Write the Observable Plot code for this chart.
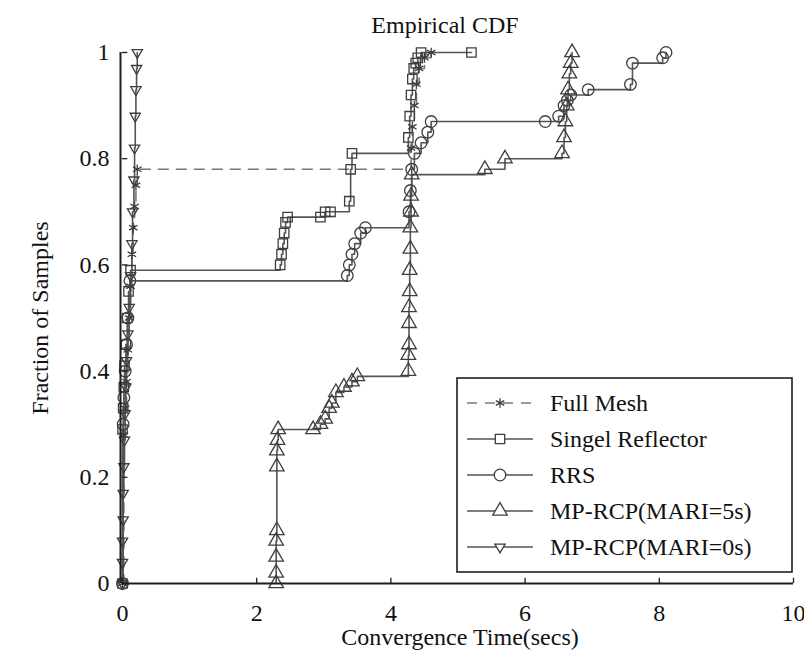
<!DOCTYPE html>
<html><head><meta charset="utf-8">
<script src="https://cdn.jsdelivr.net/npm/d3@7"></script>
<script src="https://cdn.jsdelivr.net/npm/@observablehq/plot@0.6"></script>
<style>
body{margin:0;background:#fff;}
#chart{width:804px;height:658px;}
</style></head><body><div id="chart"></div>
<script>
const titleText = "Empirical CDF";
const xLabel = "Convergence Time(secs)";
const yLabel = "Fraction of Samples";
const seriesNames = ["Full Mesh","Singel Reflector","RRS","MP-RCP(MARI=5s)","MP-RCP(MARI=0s)"];
const xTicks = [0,2,4,6,8,10];
const yTicks = [0,0.2,0.4,0.6,0.8,1];

const fullMesh = [[0,0],[0.02,0.28],[0.04,0.33],[0.06,0.38],[0.08,0.44],[0.1,0.5],[0.12,0.56],[0.14,0.62],[0.16,0.67],[0.18,0.71],[0.2,0.75],[0.22,0.78],[4.3,0.82],[4.32,0.86],[4.35,0.9],[4.38,0.94],[4.42,0.97],[4.5,0.99],[4.6,1.0]];
const singel = [[0,0],[0,0.29],[0.01,0.33],[0.02,0.37],[0.03,0.41],[0.05,0.45],[0.07,0.5],[0.09,0.55],[0.12,0.59],[2.35,0.6],[2.37,0.62],[2.39,0.64],[2.41,0.66],[2.43,0.68],[2.46,0.69],[2.95,0.69],[3.02,0.7],[3.1,0.7],[3.38,0.72],[3.4,0.78],[3.42,0.81],[4.26,0.84],[4.28,0.88],[4.3,0.92],[4.32,0.95],[4.34,0.97],[4.37,0.98],[4.4,0.99],[4.45,1.0],[5.2,1.0]];
const rrs = [[0,0],[0.01,0.3],[0.02,0.35],[0.04,0.4],[0.06,0.45],[0.08,0.5],[0.11,0.57],[3.35,0.58],[3.38,0.6],[3.42,0.62],[3.46,0.64],[3.55,0.66],[3.62,0.67],[4.27,0.7],[4.29,0.74],[4.31,0.78],[4.35,0.81],[4.45,0.83],[4.55,0.85],[4.6,0.87],[6.3,0.87],[6.5,0.88],[6.58,0.9],[6.63,0.91],[6.68,0.92],[6.94,0.93],[7.57,0.94],[7.6,0.98],[8.05,0.99],[8.1,1.0]];
const mp5 = [[2.29,0],[2.29,0.02],[2.29,0.05],[2.29,0.08],[2.3,0.1],[2.3,0.22],[2.3,0.25],[2.31,0.27],[2.32,0.29],[2.84,0.29],[2.95,0.3],[3.02,0.31],[3.08,0.33],[3.12,0.34],[3.18,0.36],[3.3,0.37],[3.42,0.38],[3.5,0.39],[4.26,0.4],[4.26,0.43],[4.27,0.45],[4.27,0.49],[4.27,0.52],[4.28,0.55],[4.28,0.59],[4.29,0.63],[4.29,0.67],[4.3,0.7],[4.3,0.73],[4.31,0.77],[5.4,0.78],[5.7,0.8],[6.55,0.81],[6.58,0.84],[6.6,0.87],[6.62,0.9],[6.64,0.93],[6.66,0.96],[6.68,0.98],[6.7,1.0]];
const mp0 = [[0,0],[0,0.04],[0,0.08],[0.01,0.12],[0.01,0.17],[0.02,0.22],[0.03,0.27],[0.04,0.32],[0.05,0.37],[0.06,0.42],[0.08,0.47],[0.1,0.52],[0.12,0.58],[0.14,0.64],[0.15,0.7],[0.17,0.76],[0.18,0.82],[0.19,0.88],[0.2,0.93],[0.21,0.97],[0.22,1.0]];

const triangleDown = {
  draw(context, size) {
    const y = -Math.sqrt(size / (Math.sqrt(3) * 3));
    context.moveTo(0, -2 * y);
    context.lineTo(-Math.sqrt(3) * y, y);
    context.lineTo(Math.sqrt(3) * y, y);
    context.closePath();
  }
};

const lineGray = "#555";
const markGray = "#3e3e3e";
const axisColor = "#1e1e1e";
const FONT = "Liberation Serif, Times New Roman, serif";

const series = [
  {name: seriesNames[0], data: fullMesh, symbol: "asterisk", r: 4.6, dash: "10,8", lstroke: "#777"},
  {name: seriesNames[1], data: singel, symbol: "square", r: 5.3, dash: null, lstroke: lineGray},
  {name: seriesNames[2], data: rrs, symbol: "circle", r: 5.8, dash: null, lstroke: lineGray},
  {name: seriesNames[3], data: mp5, symbol: "triangle", r: 5.4, dash: null, lstroke: lineGray},
  {name: seriesNames[4], data: mp0, symbol: triangleDown, r: 3.8, dash: null, lstroke: lineGray}
];

const marks = [];
for (const s of series) {
  marks.push(Plot.line(s.data, {x: d => d[0], y: d => d[1], curve: "step-after", stroke: s.lstroke, strokeWidth: 1.6, strokeDasharray: s.dash}));
}
for (const s of series) {
  marks.push(Plot.dot(s.data, {x: d => d[0], y: d => d[1], symbol: s.symbol, r: s.r, stroke: markGray, strokeWidth: 1.3, fill: "none"}));
}
marks.push(Plot.ruleY([0], {stroke: axisColor, strokeWidth: 2}));
marks.push(Plot.ruleX([0], {stroke: axisColor, strokeWidth: 2, dx: -2}));
marks.push(Plot.ruleX(xTicks, {x: d => d, y1: 0, y2: 0.01, stroke: axisColor, strokeWidth: 1.3}));
marks.push(Plot.ruleY(yTicks, {y: d => d, x1: 0, x2: 0.08, stroke: axisColor, strokeWidth: 1.3}));
marks.push(Plot.axisX({ticks: xTicks, tickSize: 0, tickPadding: 20, label: null, tickFormat: d => String(d)}));
marks.push(Plot.axisY({ticks: yTicks, tickSize: 0, tickPadding: 13, label: null, tickFormat: d => String(d)}));

const chart = Plot.plot({
  width: 804, height: 658,
  marginLeft: 122, marginRight: 11, marginTop: 52, marginBottom: 75,
  x: {domain: [0, 10]},
  y: {domain: [0, 1]},
  style: {fontFamily: FONT, fontSize: "24px", background: "#fff", color: "#111"},
  marks
});
document.getElementById("chart").appendChild(chart);

const svg = d3.select(chart);
svg.append("text").attr("x", 445).attr("y", 33).attr("text-anchor", "middle")
  .attr("font-family", FONT).attr("font-size", 24).attr("fill", "#111").text(titleText);
svg.append("text").attr("x", 460).attr("y", 645).attr("text-anchor", "middle")
  .attr("font-family", FONT).attr("font-size", 24).attr("fill", "#111").text(xLabel);
svg.append("text").attr("transform", "translate(48,318) rotate(-90)").attr("text-anchor", "middle")
  .attr("font-family", FONT).attr("font-size", 24).attr("fill", "#111").text(yLabel);

// legend
const lg = svg.append("g");
const lx = 457, ly = 378, lw = 335, lh = 194;
lg.append("rect").attr("x", lx).attr("y", ly).attr("width", lw).attr("height", lh)
  .attr("fill", "#fff").attr("stroke", axisColor).attr("stroke-width", 1.6);
const symMap = {asterisk: d3.symbolAsterisk, square: d3.symbolSquare, circle: d3.symbolCircle, triangle: d3.symbolTriangle};
series.forEach((s, i) => {
  const cy = 403 + i * 36;
  lg.append("line").attr("x1", 467).attr("x2", 533).attr("y1", cy).attr("y2", cy)
    .attr("stroke", s.lstroke).attr("stroke-width", 1.6).attr("stroke-dasharray", s.dash);
  const sym = typeof s.symbol === "string" ? symMap[s.symbol] : s.symbol;
  lg.append("path").attr("d", d3.symbol(sym, Math.PI * s.r * s.r)()).attr("transform", `translate(500,${cy})`)
    .attr("fill", "#fff").attr("stroke", markGray).attr("stroke-width", 1.3);
  lg.append("text").attr("x", 550).attr("y", cy + 8).attr("text-anchor", "start").attr("font-family", FONT).attr("font-size", 24)
    .attr("fill", "#111").text(s.name);
});
</script></body></html>
